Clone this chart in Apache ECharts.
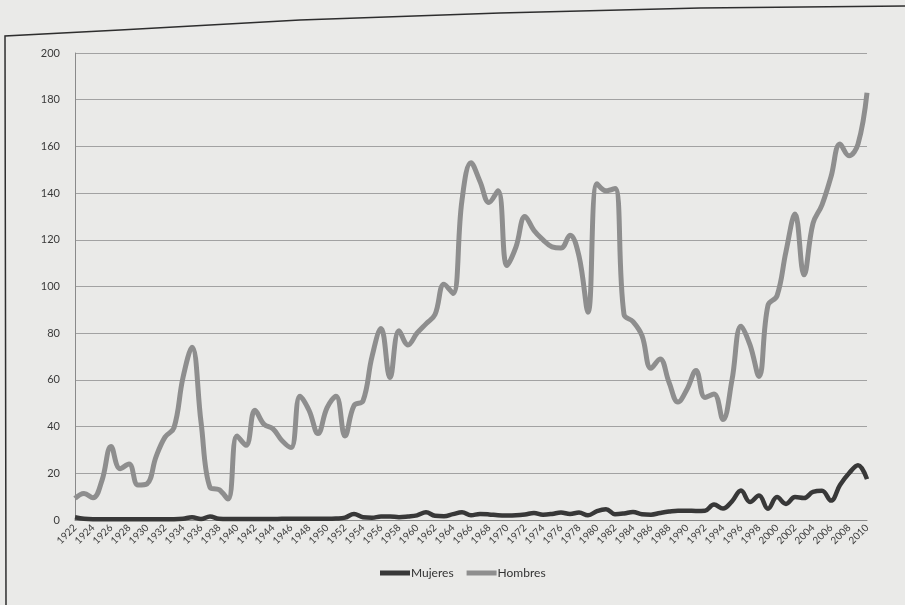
<!DOCTYPE html>
<html>
<head>
<meta charset="utf-8">
<script src="https://cdn.jsdelivr.net/npm/echarts@6/dist/echarts.min.js"></script>
<style>
  html, body { margin: 0; padding: 0; background: #eaeae8; }
  #chart { width: 905px; height: 605px; }
</style>
</head>
<body>
<div id="chart"></div>
<script>
// Years on the category axis
const years = [];
for (let y = 1922; y <= 2010; y++) years.push(String(y));

// Women, per year 1922-2010
const mujeres = [
  1.2, 0.5, 0.3, 0.3, 0.3, 0.3, 0.3, 0.3, 0.3, 0.3,
  0.3, 0.3, 0.5, 1.2, 0.4, 1.5, 0.5, 0.4, 0.4, 0.4,
  0.4, 0.4, 0.4, 0.5, 0.5, 0.5, 0.5, 0.5, 0.5, 0.6,
  1.0, 2.6, 1.2, 1.0, 1.5, 1.5, 1.2, 1.5, 2.0, 3.3,
  1.8, 1.6, 2.5, 3.3, 2.0, 2.6, 2.4, 2.0, 1.9, 2.0,
  2.4, 3.0, 2.3, 2.6, 3.2, 2.6, 3.2, 2.0, 3.8, 4.6,
  2.5, 2.8, 3.4, 2.5, 2.3, 3.0, 3.6, 4.0, 4.0, 3.9,
  4.0, 6.6, 4.9, 8.0, 12.6, 7.7, 10.5, 4.8, 9.8, 6.9,
  9.8, 9.4, 12.0, 12.5, 8.3, 15.0, 20.0, 23.5, 17.5
];

// Men, per year 1922-2010
const hombres = [
  9.3, 11.4, 9.5, 17, 31.5, 22, 24, 15, 15.5, 27,
  35.5, 39.5, 61, 74, 42, 14, 13, 9, 36, 32,
  47, 41, 39, 34, 31, 53, 47, 37, 48, 53,
  36, 49, 51, 70, 82, 61, 81, 75, 80, 84,
  88, 101, 97, 137, 153, 145, 136, 141, 109, 117,
  130, 124, 120, 117, 116.5, 122, 113, 89, 144, 141,
  142, 88, 85, 79, 65, 69, 59, 50.5, 56, 64,
  52.5, 54, 43, 60, 83, 75, 61.5, 92, 96, 115,
  131, 105, 127, 135, 147, 161, 156, 161, 183
];

const seriesNames = ['Mujeres', 'Hombres'];
const FONT = 'Lato, "Open Sans", sans-serif';

const chart = echarts.init(document.getElementById('chart'), null, { renderer: 'canvas' });

chart.setOption({
  backgroundColor: '#eaeae8',
  animation: false,
  grid: { left: 75, right: 38, top: 53, bottom: 85 },
  legend: {
    data: seriesNames,
    left: 375,
    top: 562,
    icon: 'rect',
    itemWidth: 30,
    itemHeight: 5,
    itemGap: 13,
    textStyle: { fontFamily: FONT, fontSize: 12, color: '#333', padding: [0, 0, 0, -4] }
  },
  xAxis: {
    type: 'category',
    data: years,
    boundaryGap: false,
    axisLine: { lineStyle: { color: '#8a8a8a', width: 1 } },
    axisTick: { show: false },
    axisLabel: {
      interval: 1,
      rotate: 45,
      fontFamily: FONT,
      fontSize: 10,
      color: '#3a3a3a',
      margin: 6
    },
    splitLine: { show: false }
  },
  yAxis: {
    type: 'value',
    min: 0,
    max: 200,
    interval: 20,
    axisLine: { show: true, lineStyle: { color: '#8a8a8a', width: 1 } },
    axisTick: { show: false },
    axisLabel: { fontFamily: FONT, fontSize: 11, color: '#3a3a3a', margin: 15 },
    splitLine: { lineStyle: { color: '#a2a2a2', width: 1 } }
  },
  series: [
    {
      name: 'Mujeres',
      type: 'line',
      data: mujeres,
      smooth: 0.4,
      showSymbol: false,
      color: '#383838',
      lineStyle: { color: '#383838', width: 4.5 },
      z: 3
    },
    {
      name: 'Hombres',
      type: 'line',
      data: hombres,
      smooth: 0.4,
      showSymbol: false,
      color: '#8e8e8e',
      lineStyle: { color: '#8e8e8e', width: 5 },
      z: 2
    }
  ],
  graphic: [
    {
      type: 'polyline',
      shape: { points: [[6, 605], [5, 36], [120, 30], [300, 20], [500, 13], [700, 8], [905, 6]] },
      style: { stroke: '#2e2e2e', lineWidth: 1.5, fill: null },
      silent: true
    }
  ]
});
</script>
</body>
</html>
